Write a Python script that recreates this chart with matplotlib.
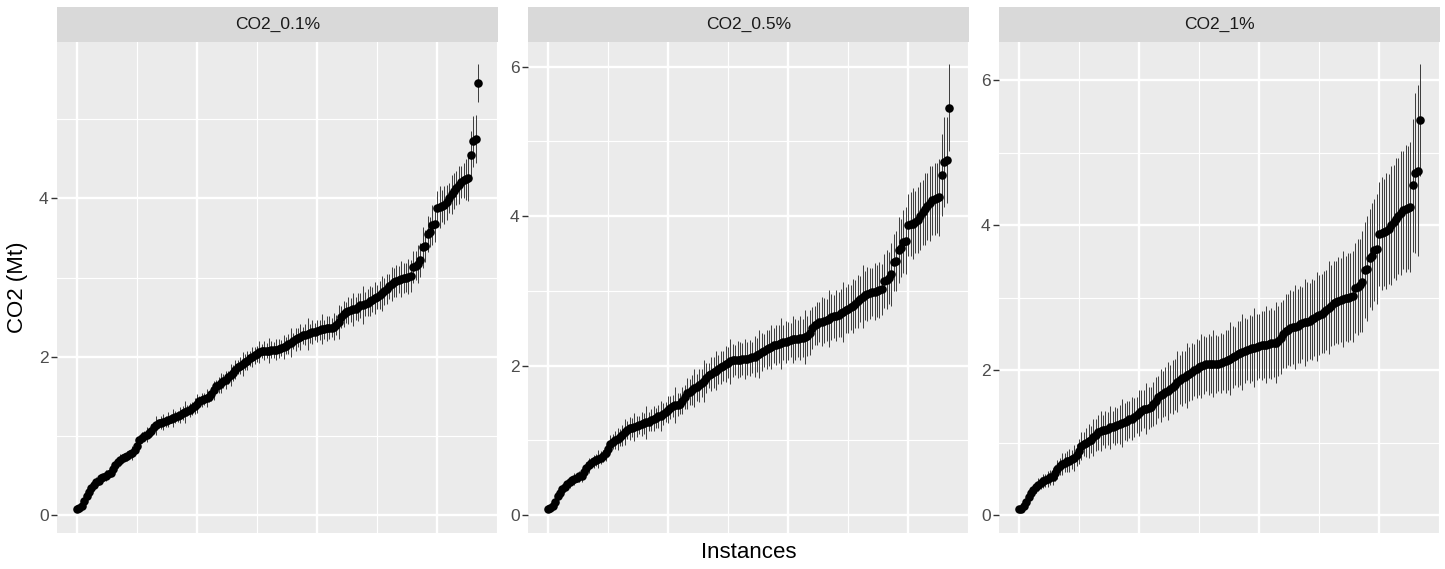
import matplotlib
matplotlib.use("Agg")
import matplotlib.pyplot as plt
from matplotlib.ticker import MultipleLocator
import numpy as np

plt.rcParams['font.family'] = ['Liberation Sans', 'DejaVu Sans']

# ---------------- data ----------------
panels = ['CO2_0.1%', 'CO2_0.5%', 'CO2_1%']
x_title = 'Instances'
y_title = 'CO2 (Mt)'

co2 = [
    0.08, 0.09, 0.12, 0.18, 0.25, 0.30, 0.35, 0.38, 0.42, 0.44, 0.47, 0.48, 0.50, 0.52,
    0.53, 0.58, 0.63, 0.67, 0.70, 0.72, 0.74, 0.75, 0.77, 0.79, 0.83, 0.88, 0.95, 0.98,
    1.00, 1.02, 1.04, 1.07, 1.11, 1.14, 1.16, 1.17, 1.18, 1.19, 1.21, 1.22, 1.23, 1.24,
    1.25, 1.27, 1.29, 1.30, 1.32, 1.33, 1.35, 1.38, 1.41, 1.44, 1.46, 1.47, 1.48, 1.49,
    1.53, 1.58, 1.63, 1.65, 1.67, 1.70, 1.71, 1.74, 1.77, 1.80, 1.84, 1.87, 1.89, 1.91,
    1.93, 1.95, 1.98, 2.00, 2.02, 2.04, 2.06, 2.07, 2.08, 2.08, 2.08, 2.09, 2.09, 2.09,
    2.10, 2.11, 2.12, 2.14, 2.16, 2.18, 2.20, 2.22, 2.24, 2.25, 2.27, 2.28, 2.29, 2.30,
    2.31, 2.32, 2.33, 2.34, 2.35, 2.35, 2.36, 2.37, 2.37, 2.38, 2.40, 2.44, 2.50, 2.54,
    2.56, 2.58, 2.59, 2.60, 2.61, 2.63, 2.65, 2.66, 2.67, 2.68, 2.70, 2.72, 2.74, 2.76,
    2.78, 2.80, 2.83, 2.86, 2.89, 2.92, 2.94, 2.96, 2.97, 2.98, 2.99, 3.00, 3.01, 3.02,
    3.13, 3.15, 3.17, 3.22, 3.38, 3.40, 3.55, 3.57, 3.66, 3.67, 3.88, 3.89, 3.90, 3.92,
    3.95, 4.00, 4.05, 4.09, 4.13, 4.17, 4.21, 4.23, 4.24, 4.25, 4.55, 4.72, 4.75, 5.45,
]

err_01 = [
    0.02, 0.03, 0.02, 0.04, 0.03, 0.05, 0.03, 0.04, 0.06, 0.03, 0.05, 0.04, 0.07, 0.04,
    0.03, 0.06, 0.05, 0.04, 0.08, 0.05, 0.04, 0.06, 0.05, 0.09, 0.05, 0.06, 0.04, 0.07,
    0.06, 0.09, 0.05, 0.08, 0.07, 0.12, 0.06, 0.08, 0.10, 0.07, 0.09, 0.06, 0.11, 0.08,
    0.07, 0.10, 0.09, 0.14, 0.07, 0.09, 0.08, 0.10, 0.12, 0.07, 0.09, 0.08, 0.11, 0.06,
    0.09, 0.12, 0.08, 0.10, 0.13, 0.09, 0.11, 0.08, 0.14, 0.10, 0.12, 0.09, 0.11, 0.15,
    0.10, 0.12, 0.09, 0.13, 0.11, 0.10, 0.14, 0.09, 0.12, 0.10, 0.16, 0.11, 0.10, 0.13,
    0.12, 0.10, 0.15, 0.11, 0.13, 0.18, 0.10, 0.14, 0.12, 0.16, 0.11, 0.13, 0.20, 0.12,
    0.15, 0.11, 0.14, 0.13, 0.19, 0.12, 0.16, 0.14, 0.12, 0.17, 0.13, 0.22, 0.14, 0.16,
    0.13, 0.17, 0.15, 0.21, 0.14, 0.18, 0.16, 0.24, 0.15, 0.17, 0.19, 0.16, 0.20, 0.15,
    0.18, 0.22, 0.17, 0.19, 0.16, 0.21, 0.18, 0.20, 0.17, 0.23, 0.19, 0.18, 0.22, 0.20,
    0.20, 0.18, 0.24, 0.21, 0.26, 0.20, 0.23, 0.19, 0.25, 0.22, 0.21, 0.27, 0.20, 0.24,
    0.22, 0.19, 0.25, 0.23, 0.21, 0.24, 0.20, 0.22, 0.26, 0.28, 0.30, 0.32, 0.30, 0.24,
]

err_05 = [
    0.02, 0.02, 0.03, 0.03, 0.04, 0.05, 0.04, 0.06, 0.05, 0.07, 0.05, 0.08, 0.06, 0.07,
    0.09, 0.07, 0.08, 0.10, 0.07, 0.09, 0.08, 0.12, 0.09, 0.08, 0.11, 0.10, 0.12, 0.10,
    0.12, 0.15, 0.11, 0.14, 0.17, 0.12, 0.15, 0.13, 0.19, 0.14, 0.12, 0.16, 0.14, 0.22,
    0.13, 0.15, 0.17, 0.14, 0.16, 0.20, 0.15, 0.13, 0.18, 0.16, 0.15, 0.24, 0.16, 0.14,
    0.18, 0.16, 0.21, 0.17, 0.20, 0.25, 0.18, 0.22, 0.19, 0.28, 0.20, 0.17, 0.23, 0.21,
    0.26, 0.19, 0.22, 0.20, 0.24, 0.21, 0.30, 0.22, 0.20, 0.25, 0.23, 0.21, 0.27, 0.22,
    0.24, 0.21, 0.27, 0.23, 0.32, 0.25, 0.22, 0.26, 0.24, 0.30, 0.23, 0.27, 0.25, 0.34,
    0.24, 0.28, 0.26, 0.23, 0.31, 0.27, 0.25, 0.29, 0.26, 0.36, 0.27, 0.30, 0.28, 0.26,
    0.29, 0.27, 0.33, 0.30, 0.28, 0.38, 0.31, 0.29, 0.34, 0.30, 0.32, 0.40, 0.31, 0.33,
    0.30, 0.36, 0.32, 0.35, 0.31, 0.42, 0.33, 0.36, 0.34, 0.32, 0.38, 0.35, 0.37, 0.34,
    0.36, 0.39, 0.35, 0.42, 0.38, 0.40, 0.44, 0.39, 0.42, 0.45, 0.41, 0.43, 0.47, 0.42,
    0.44, 0.46, 0.43, 0.48, 0.45, 0.50, 0.46, 0.48, 0.47, 0.52, 0.55, 0.60, 0.58, 0.58,
]

err_1 = [
    0.02, 0.03, 0.04, 0.05, 0.06, 0.07, 0.06, 0.08, 0.09, 0.08, 0.10, 0.09, 0.11, 0.10,
    0.12, 0.11, 0.13, 0.12, 0.15, 0.13, 0.14, 0.16, 0.13, 0.18, 0.15, 0.17, 0.19, 0.16,
    0.20, 0.23, 0.19, 0.26, 0.22, 0.24, 0.28, 0.21, 0.25, 0.23, 0.30, 0.22, 0.26, 0.24,
    0.27, 0.33, 0.25, 0.28, 0.26, 0.30, 0.27, 0.25, 0.32, 0.28, 0.26, 0.35, 0.29, 0.27,
    0.30, 0.33, 0.29, 0.36, 0.32, 0.34, 0.40, 0.33, 0.37, 0.35, 0.42, 0.34, 0.38, 0.36,
    0.45, 0.37, 0.39, 0.36, 0.41, 0.38, 0.44, 0.40, 0.37, 0.42, 0.39, 0.46, 0.40, 0.38,
    0.41, 0.39, 0.44, 0.42, 0.50, 0.43, 0.40, 0.46, 0.44, 0.52, 0.45, 0.42, 0.47, 0.45,
    0.55, 0.46, 0.44, 0.48, 0.46, 0.53, 0.47, 0.49, 0.46, 0.56, 0.48, 0.50, 0.47, 0.51,
    0.49, 0.52, 0.50, 0.58, 0.51, 0.53, 0.50, 0.60, 0.54, 0.52, 0.56, 0.53, 0.62, 0.55,
    0.54, 0.57, 0.55, 0.64, 0.56, 0.58, 0.57, 0.60, 0.58, 0.66, 0.59, 0.61, 0.60, 0.63,
    0.62, 0.66, 0.64, 0.70, 0.66, 0.72, 0.68, 0.74, 0.70, 0.76, 0.72, 0.78, 0.74, 0.80,
    0.76, 0.82, 0.78, 0.84, 0.80, 0.86, 0.82, 0.88, 0.85, 0.90, 0.92, 1.10, 1.18, 0.77,
]

# ---------------- layout ----------------
W, H = 1445, 569
fig = plt.figure(figsize=(W / 100, H / 100), dpi=100)
fig.patch.set_facecolor('white')

lefts = [57, 528, 999]
pw = 441
top, bottom = 42, 533
strip_top = 7

xs = np.arange(len(co2))
for left, name, err in zip(lefts, panels, [err_01, err_05, err_1]):
    ax = fig.add_axes([left / W, (H - bottom) / H, pw / W, (bottom - top) / H])
    ax.set_facecolor('#EBEBEB')
    y = np.asarray(co2)
    e = np.asarray(err)
    ax.vlines(xs, y - e, y + e, color='#3a3a3a', lw=0.7, zorder=3)
    ax.scatter(xs, y, s=38, color='black', linewidths=0, zorder=4)

    lo, hi = (y - e).min(), (y + e).max()
    sp = hi - lo
    ax.set_ylim(lo - 0.05 * sp, hi + 0.05 * sp)
    xsp = xs.max() - xs.min()
    ax.set_xlim(xs.min() - 0.05 * xsp, xs.max() + 0.05 * xsp)

    ax.xaxis.set_major_locator(MultipleLocator(50))
    ax.xaxis.set_minor_locator(MultipleLocator(25))
    ax.yaxis.set_major_locator(MultipleLocator(2))
    ax.yaxis.set_minor_locator(MultipleLocator(1))
    ax.grid(which='major', color='white', lw=1.7)
    ax.grid(which='minor', color='white', lw=0.85)
    ax.set_axisbelow(True)
    for s in ax.spines.values():
        s.set_visible(False)
    ax.tick_params(axis='x', which='both', bottom=False, labelbottom=False)
    ax.tick_params(axis='y', which='major', length=4, width=1.0,
                   color='#333333', labelsize=12.5, labelcolor='#4D4D4D', pad=2)
    ax.tick_params(axis='y', which='minor', left=False)

    sax = fig.add_axes([left / W, (H - top) / H, pw / W, (top - strip_top) / H])
    sax.set_facecolor('#D9D9D9')
    for s in sax.spines.values():
        s.set_visible(False)
    sax.set_xticks([])
    sax.set_yticks([])
    sax.text(0.5, 0.5, name, ha='center', va='center', fontsize=12.5,
             color='#1A1A1A', transform=sax.transAxes)

fig.text((57 + 1440) / 2 / W, 1 - 552 / H, x_title, ha='center', va='center',
         fontsize=16, color='black')
fig.text(18 / W, 1 - ((top + bottom) / 2) / H, y_title, ha='center', va='center',
         rotation=90, fontsize=16, color='black')

fig.savefig('out.png', dpi=100)
